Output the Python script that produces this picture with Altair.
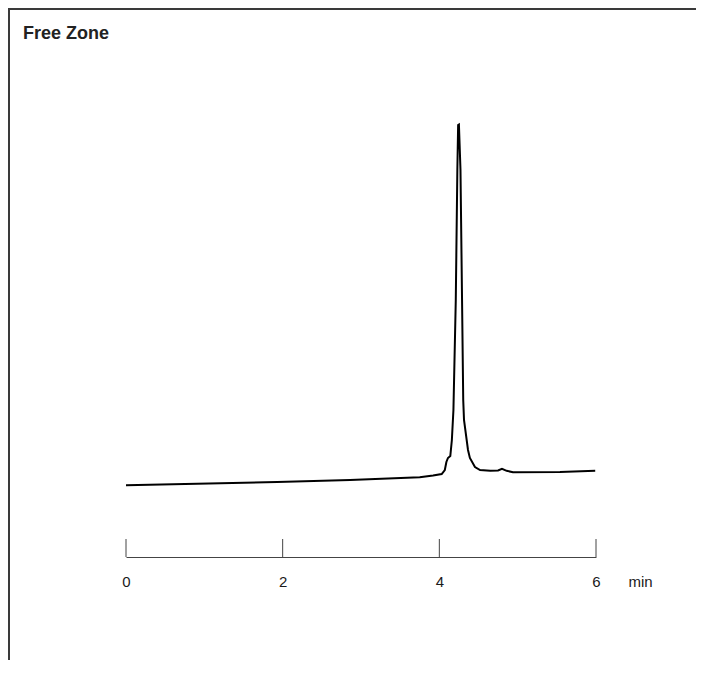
import altair as alt
import pandas as pd

# Chromatogram trace (time in min, detector signal in arbitrary units)
time_min = [0.00, 1.93, 2.86, 3.75, 3.92, 4.03, 4.07, 4.09, 4.11, 4.14, 4.16, 4.18,
            4.21, 4.23, 4.24, 4.25, 4.27, 4.29, 4.305, 4.315, 4.366, 4.39, 4.455,
            4.52, 4.65, 4.75, 4.80, 4.86, 4.94, 5.54, 5.99]
signal = [7.17, 7.50, 7.70, 7.97, 8.15, 8.30, 8.70, 9.50, 9.90, 10.10, 11.70, 14.70,
          25.70, 38.70, 43.20, 43.25, 38.70, 25.70, 15.70, 13.70, 10.70, 9.90, 9.00,
          8.70, 8.63, 8.65, 8.82, 8.62, 8.47, 8.50, 8.63]
tick_values = [0, 2, 4, 6]
title_text = "Free Zone"
x_title = "min"

W, H = 470, 460
FONT = "Liberation Sans"

trace = pd.DataFrame({"t": time_min, "s": signal})
ticks = pd.DataFrame({"t": tick_values})
one = pd.DataFrame({"a": [0]})

xscale = alt.Scale(domain=[0, 6], nice=False)
yscale = alt.Scale(domain=[0, 46], nice=False, zero=False)

line = alt.Chart(trace).mark_line(color="black", strokeWidth=2).encode(
    x=alt.X("t:Q", scale=xscale,
            axis=alt.Axis(values=tick_values, format="d", grid=False, ticks=False, tickSize=0,
                          labelFlush=False, labelPadding=29.7, labelBaseline="alphabetic",
                          labelFont=FONT, labelFontSize=15, labelColor="#1a1a1a",
                          domainColor="#444", domainWidth=1,
                          title=x_title, titleX=514, titleY=29.7, titleAlign="center",
                          titleBaseline="alphabetic", titleAngle=0, titleFont=FONT,
                          titleFontSize=15, titleFontWeight="normal", titleColor="#1a1a1a")),
    y=alt.Y("s:Q", scale=yscale, axis=None),
)

tick_rules = alt.Chart(ticks).mark_rule(color="#444", strokeWidth=1).encode(
    x=alt.X("t:Q", scale=xscale),
    y=alt.value(H - 18),
    y2=alt.value(H),
)

frame_left = alt.Chart(one).mark_rule(color="#3a3a3a", strokeWidth=2).encode(
    x=alt.value(-117), y=alt.value(-89), y2=alt.value(H + 115)
)
frame_top = alt.Chart(one).mark_rule(color="#3a3a3a", strokeWidth=2).encode(
    x=alt.value(-118), x2=alt.value(W + 110), y=alt.value(-88)
)

title = alt.Chart(one).mark_text(
    text=title_text, font=FONT, fontSize=18, fontWeight="bold", color="#222",
    align="left", baseline="alphabetic"
).encode(x=alt.value(-103), y=alt.value(-58.5))

chart = alt.layer(frame_left, frame_top, tick_rules, line, title).properties(
    width=W, height=H,
    autosize=alt.AutoSizeParams(type="none"),
    padding={"left": 118, "top": 89, "right": 100, "bottom": 103},
).configure(background="white").configure_view(stroke=None, strokeWidth=0)

chart.save("out.html", embed_options={"renderer": "svg", "actions": False})
